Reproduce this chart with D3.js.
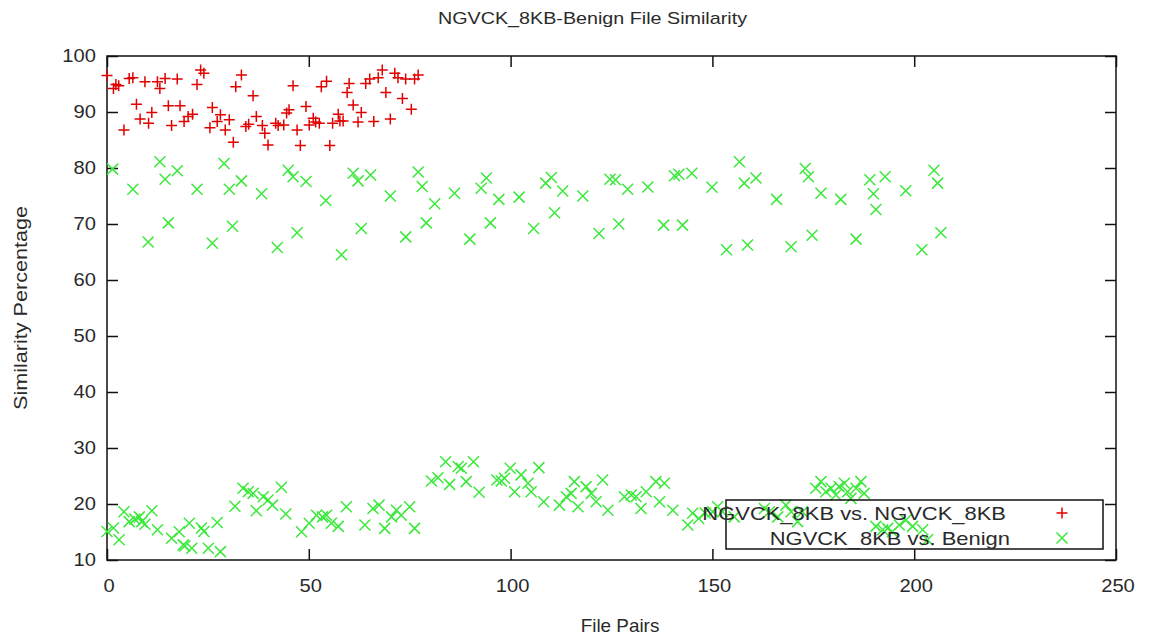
<!DOCTYPE html>
<html><head><meta charset="utf-8">
<script src="https://cdn.jsdelivr.net/npm/d3@7"></script>
<style>html,body{margin:0;padding:0;background:#fff;}svg{display:block;font-family:"Liberation Sans",Arial,sans-serif;}</style>
</head><body><div id="chart"></div>
<script>
const title = "NGVCK_8KB-Benign File Similarity";
const xLabel = "File Pairs";
const yLabel = "Similarity Percentage";
const xTicks = [0, 50, 100, 150, 200, 250];
const yTicks = [10, 20, 30, 40, 50, 60, 70, 80, 90, 100];
const seriesNames = ["NGVCK_8KB vs. NGVCK_8KB", "NGVCK_8KB vs. Benign"];

// Series 1: NGVCK_8KB vs. NGVCK_8KB
const intraX = [0,1.6,2.2,2.9,4.2,5.5,6.4,7.3,8.2,9.4,10.3,11.1,12.5,13.1,14.4,15.2,16,17.4,18.1,19.1,20.1,21.2,22.3,23.2,24,25.5,26.1,27.3,28.1,29.3,30.3,31.3,31.9,33.3,34.4,35.1,36.2,37,38.5,39.1,39.9,41.8,42.4,43.8,44.5,45.1,46.1,47.1,47.9,49.3,50.1,51.1,51.7,52.6,53.1,54.4,55.2,55.9,57.3,57.7,58.5,59.5,60,61,62.2,63,64.1,65.1,66.1,67.2,68.2,69.1,70.2,71.3,72.1,73.2,74,75.4,76.2,77.1];
const intraY = [96.5,94.2,94.9,94.7,86.8,96.0,96.1,91.4,88.75,95.4,88.0,89.9,95.4,94.2,96.0,91.1,87.6,95.9,91.1,88.3,89.2,89.6,94.9,97.5,96.9,87.2,90.8,88.3,89.5,86.8,88.6,84.6,94.5,96.6,87.4,87.8,92.9,89.2,87.6,86.2,84.1,88.0,87.6,87.7,89.8,90.4,94.7,86.8,84.0,91.0,87.7,88.9,88.2,88.0,94.5,95.5,84.0,88.0,89.6,88.4,88.4,93.5,95.1,91.25,88.2,89.9,95.1,95.9,88.3,96.1,97.5,93.5,88.75,96.9,96.1,92.4,95.9,90.5,95.9,96.6];

// Series 2: NGVCK_8KB vs. Benign (upper band then lower band)
const benignX = [1.4,6.4,10.2,13.1,14.4,15.2,17.4,22.3,26.1,29,30.3,31.1,33.3,38.3,42.2,44.9,46.1,47.1,49.3,54.2,58.1,61,62.2,63,65.3,70.2,74,77.1,78.1,79.1,81.2,86.1,89.9,92.7,94,95,97.1,102.1,105.7,108.7,110.1,110.9,112.9,117.9,121.9,124.6,126,126.8,129,134,137.9,140.6,141.7,142.6,144.9,149.9,153.5,156.7,157.9,158.7,160.8,165.9,169.5,173,173.8,174.7,176.9,181.8,185.6,189,189.9,190.5,192.8,197.9,201.9,204.9,205.8,206.6,
  0,1.6,3,4.2,5.5,6.9,8,8.6,9.4,11.1,12.5,16,17.9,18.9,19.3,20.4,21,23.4,24,25.1,27.3,28.1,31.7,33.7,35,36.2,37,38.7,39.9,41,43.2,44.3,48.2,50.1,51.9,53.4,54.4,55.6,57.3,59.3,63.9,65.9,67.4,68.8,70.5,71.7,72.9,75,76.2,80.4,82,83.9,84.9,87,87.8,89,90.8,92.2,96.6,97.7,98.5,99.9,101,102.6,104.3,105.1,107,108.2,112.1,113.8,115,115.8,116.7,118.7,120,121.2,122.8,124.1,128.2,129.9,131.1,132.3,133.6,136,136.9,138.1,140.2,143.9,145.1,146.6,148.2,150.1,151.3,152.5,155.4,162.9,164.1,166.2,168.2,169.5,171.1,172.3,175.6,176.9,178.1,179.4,180.6,181.4,182.7,183.5,184.3,185.6,186.8,187.6,190.5,192.2,193.4,194.6,196.3,197.9,199.6,202.1,203.3];
const benignY = [79.8,76.2,66.8,81.1,78.0,70.2,79.5,76.2,66.55,80.8,76.2,69.6,77.7,75.4,65.8,79.6,78.45,68.45,77.6,74.2,64.5,79.05,77.7,69.2,78.75,75.0,67.7,79.3,76.7,70.2,73.6,75.5,67.3,76.4,78.2,70.2,74.4,74.8,69.2,77.3,78.3,72.0,75.9,75.0,68.3,78.0,77.9,70.0,76.2,76.6,69.8,78.6,78.9,69.8,79.05,76.55,65.4,81.1,77.3,66.25,78.2,74.4,65.95,79.9,78.45,68.0,75.5,74.4,67.3,77.9,75.4,72.6,78.45,75.95,65.4,79.6,77.3,68.45,
  15.1,15.7,13.6,18.6,16.85,17.3,17.7,16.85,16.4,18.8,15.4,13.9,15.05,12.7,12.5,16.55,12.1,15.7,15.1,12.1,16.7,11.5,19.6,22.8,22.2,21.9,18.8,21.3,20.7,19.8,23.0,18.2,15.05,16.55,18.0,17.7,18.0,16.55,16.0,19.5,16.25,19.2,19.8,15.65,17.7,18.9,18.0,19.5,15.65,24.1,24.7,27.55,23.5,26.7,26.4,24.0,27.55,22.1,24.3,24.1,24.6,26.4,22.2,25.2,23.7,22.2,26.5,20.4,19.8,21.3,21.9,24.0,19.5,23.1,21.9,20.4,24.3,18.9,21.3,21.6,21.3,19.2,22.2,24.0,20.4,23.7,18.9,16.25,18.35,17.4,18.4,18.6,19.5,18.6,17.7,19.2,18.6,17.7,19.8,18.6,16.85,18.6,22.8,24.0,22.2,22.8,21.6,23.1,23.7,22.2,21.0,22.8,24.0,21.9,16.0,15.4,15.65,15.05,16.25,17.1,16.0,15.4,13.6];

const W = 1149, H = 643;
const M = {left: 107, right: 1116, top: 56, bottom: 560};
const red = "#e00000", green = "#3be83b";

const svg = d3.select("#chart").append("svg").attr("width", W).attr("height", H);
const x = d3.scaleLinear().domain([0, 250]).range([M.left, M.right]);
const y = d3.scaleLinear().domain([10, 100]).range([M.bottom, M.top]);
const fs = 18;

function txt(xp, yp, s, anchor, sx, size, rot) {
  const g = svg.append("g").attr("transform", `translate(${xp},${yp})` + (rot ? ` rotate(${rot})` : "") + ` scale(${sx},1)`);
  return g.append("text").attr("text-anchor", anchor).attr("font-size", size || fs).attr("fill", "#2a2a2a").text(s);
}

// Axes (ticks inward, mirrored)
const tl = 11;
const ax = svg.append("g");
ax.append("g").attr("transform", `translate(0,${M.bottom})`)
  .call(d3.axisBottom(x).tickValues(xTicks).tickSize(-tl).tickFormat(""));
ax.append("g").attr("transform", `translate(0,${M.top})`)
  .call(d3.axisTop(x).tickValues(xTicks).tickSize(-tl).tickFormat(""));
ax.append("g").attr("transform", `translate(${M.left},0)`)
  .call(d3.axisLeft(y).tickValues(yTicks).tickSize(-tl).tickFormat(""));
ax.append("g").attr("transform", `translate(${M.right},0)`)
  .call(d3.axisRight(y).tickValues(yTicks).tickSize(-tl).tickFormat(""));
ax.selectAll(".domain").remove();
ax.selectAll(".tick line").attr("stroke", "#111").attr("stroke-width", 1.5);
svg.append("rect").attr("x", M.left).attr("y", M.top).attr("width", M.right - M.left).attr("height", M.bottom - M.top)
  .attr("fill", "none").attr("stroke", "#111").attr("stroke-width", 1.5);

xTicks.forEach(t => txt(x(t) + 2, 592, t, "middle", 1.12));
yTicks.forEach(t => txt(96, y(t) + 6, t, "end", 1.12));

txt(W / 2 + 18, 24, title, "middle", 1.16, 17);
txt(620, 632, xLabel, "middle", 1.05);
txt(27, (M.top + M.bottom) / 2, yLabel, "middle", 1.2, fs, -90);

// markers
const r = 5.5;
const plus = (g, cx, cy, c) => g.append("path").attr("d", `M${cx - r},${cy}H${cx + r}M${cx},${cy - r}V${cy + r}`)
  .attr("stroke", c).attr("stroke-width", 1.5).attr("fill", "none");
const cross = (g, cx, cy, c) => g.append("path").attr("d", `M${cx - r},${cy - r}L${cx + r},${cy + r}M${cx - r},${cy + r}L${cx + r},${cy - r}`)
  .attr("stroke", c).attr("stroke-width", 1.5).attr("fill", "none");

const gB = svg.append("g");
benignX.forEach((v, i) => cross(gB, x(v), y(benignY[i]), green));
const gI = svg.append("g");
intraX.forEach((v, i) => plus(gI, x(v), y(intraY[i]), red));

// legend
svg.append("rect").attr("x", 726).attr("y", 500).attr("width", 377).attr("height", 49)
  .attr("fill", "none").attr("stroke", "#111").attr("stroke-width", 1.5);
txt(1006, 520, seriesNames[0], "end", 1.22);
txt(1010, 545, seriesNames[1], "end", 1.22);
plus(svg, 1062, 513, red);
cross(svg, 1062, 538, green);
</script></body></html>
